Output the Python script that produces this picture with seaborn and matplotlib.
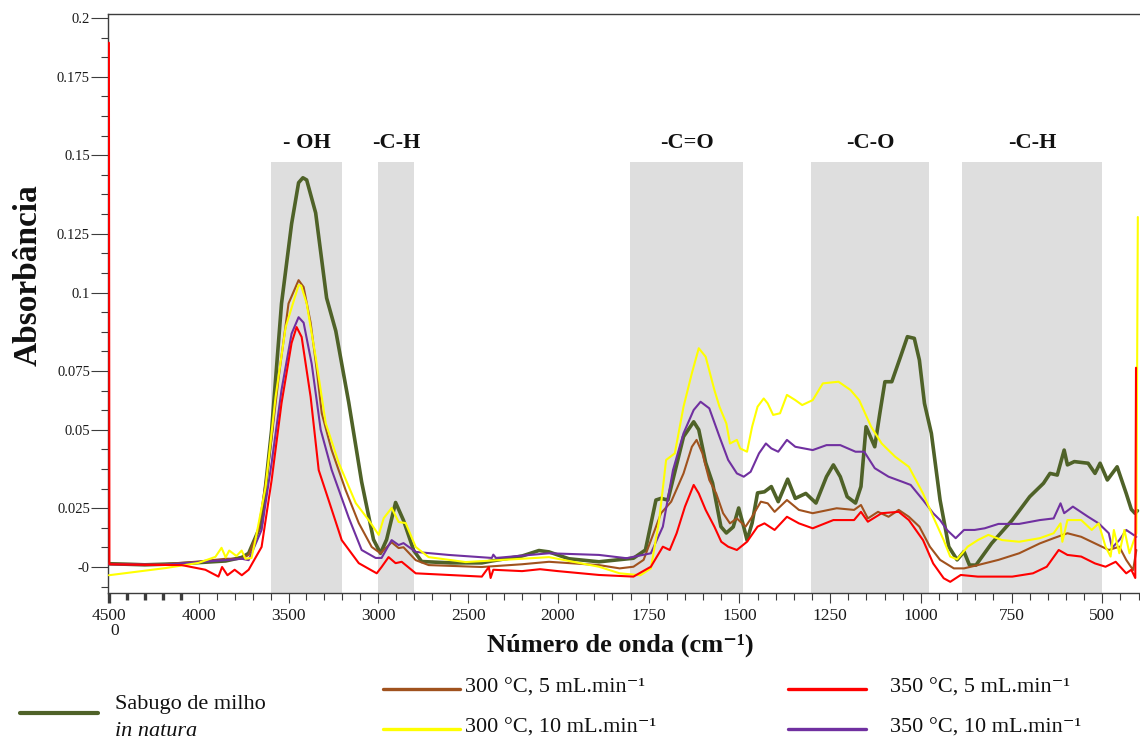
import numpy as np
import pandas as pd
import matplotlib
matplotlib.use("Agg")
import matplotlib.pyplot as plt
from matplotlib.lines import Line2D
from matplotlib.ticker import FixedLocator, FixedFormatter, NullFormatter
import seaborn as sns

# ---------------- data (wavenumber cm-1, absorbance) ----------------
wn_green = [4500, 4300, 4100, 3950, 3850, 3760, 3722, 3650, 3594, 3539, 3483, 3444, 3420, 3399, 3349,
            3288, 3237, 3165, 3093, 3027, 2988, 2954, 2904, 2860, 2803, 2759, 2600, 2424, 2368, 2200,
            2106, 2050, 1970, 1887, 1792, 1759, 1730, 1716, 1697, 1654, 1626, 1612, 1593, 1574, 1551,
            1536, 1517, 1502, 1488, 1479, 1465, 1450, 1431, 1412, 1393, 1367, 1346, 1317, 1289, 1260,
            1241, 1222, 1203, 1180, 1165, 1151, 1127, 1113, 1099, 1080, 1056, 1037, 1018, 1004, 990,
            971, 947, 923, 900, 881, 866, 848, 805, 748, 700, 662, 644, 624, 605, 596, 577, 539, 520,
            506, 486, 459, 434, 420, 410, 403]
ab_green = [0.0012, 0.0008, 0.0012, 0.0018, 0.0022, 0.0035, 0.005, 0.016, 0.050, 0.096, 0.125, 0.140,
            0.1418, 0.141, 0.129, 0.098, 0.086, 0.060, 0.031, 0.010, 0.005, 0.010, 0.0235, 0.017, 0.006,
            0.002, 0.0015, 0.0015, 0.0022, 0.004, 0.006, 0.0055, 0.003, 0.0019, 0.0032, 0.0062, 0.0244,
            0.025, 0.0244, 0.0475, 0.0529, 0.050, 0.038, 0.0306, 0.0147, 0.0124, 0.0146, 0.0215, 0.0146,
            0.0098, 0.016, 0.027, 0.0274, 0.0293, 0.0238, 0.032, 0.025, 0.0268, 0.0233, 0.0329, 0.0372,
            0.0329, 0.0256, 0.0233, 0.0293, 0.0511, 0.0438, 0.056, 0.0675, 0.0675, 0.0766, 0.0839, 0.0833,
            0.0754, 0.0596, 0.0487, 0.0244, 0.0074, 0.0026, 0.0056, 0.0007, 0.0007, 0.0086, 0.0171, 0.0256,
            0.0305, 0.0341, 0.0335, 0.0426, 0.0372, 0.0384, 0.0378, 0.0341, 0.0378, 0.0317, 0.0365, 0.0268,
            0.021, 0.0196, 0.0205]

wn_brown = [4500, 4200, 4000, 3850, 3760, 3722, 3667, 3611, 3555, 3500, 3444, 3416, 3377, 3343, 3315,
            3260, 3182, 3109, 3037, 2988, 2926, 2887, 2860, 2792, 2720, 2424, 2200, 2050, 1887, 1830,
            1792, 1764, 1716, 1688, 1654, 1631, 1618, 1602, 1583, 1564, 1545, 1526, 1507, 1483, 1465,
            1441, 1422, 1403, 1369, 1336, 1298, 1232, 1184, 1165, 1146, 1118, 1089, 1061, 1033, 1004,
            975, 947, 909, 881, 843, 786, 729, 672, 634, 596, 558, 520, 482, 453, 434, 415, 406]
ab_brown = [0.0012, 0.001, 0.002, 0.003, 0.003, 0.0044, 0.0135, 0.038, 0.069, 0.096, 0.1045, 0.102,
            0.089, 0.0718, 0.056, 0.0426, 0.028, 0.016, 0.0073, 0.005, 0.009, 0.0069, 0.0072, 0.0025,
            0.0007, 0.0, 0.001, 0.0019, 0.0007, -0.0005, 0.0001, 0.0026, 0.0196, 0.0238, 0.0341, 0.0438,
            0.0463, 0.0414, 0.0317, 0.0268, 0.0196, 0.0159, 0.0177, 0.0147, 0.0183, 0.0238, 0.0232,
            0.0201, 0.0244, 0.0208, 0.0196, 0.0214, 0.0208, 0.0226, 0.0177, 0.0201, 0.0183, 0.0208,
            0.0183, 0.0147, 0.0074, 0.0026, -0.0005, -0.0005, 0.0007, 0.0026, 0.005, 0.0086, 0.0105,
            0.0123, 0.011, 0.0086, 0.0062, 0.0074, 0.0026, -0.0011, 0.0062]

wn_yellow = [4500, 4186, 4001, 3907, 3873, 3850, 3830, 3790, 3761, 3740, 3706, 3684, 3628, 3572, 3516,
             3444, 3430, 3399, 3349, 3293, 3221, 3126, 3054, 2998, 2970, 2926, 2887, 2848, 2792, 2720,
             2514, 2200, 2050, 1887, 1830, 1773, 1744, 1721, 1702, 1678, 1654, 1631, 1612, 1593, 1569,
             1555, 1536, 1526, 1507, 1498, 1479, 1465, 1450, 1433, 1422, 1407, 1388, 1369, 1346, 1327,
             1298, 1270, 1227, 1194, 1170, 1137, 1108, 1071, 1033, 994, 966, 937, 919, 900, 871, 843,
             814, 776, 729, 672, 634, 615, 610, 596, 558, 529, 510, 491, 477, 468, 453, 439, 425, 406, 402]
ab_yellow = [-0.003, -0.0004, 0.0015, 0.0037, 0.007, 0.0035, 0.006, 0.004, 0.006, 0.003, 0.0033, 0.010,
             0.029, 0.062, 0.0874, 0.1027, 0.1025, 0.096, 0.0765, 0.0524, 0.038, 0.0233, 0.0171, 0.0117,
             0.0178, 0.0215, 0.0164, 0.016, 0.0073, 0.0036, 0.0018, 0.003, 0.0036, 0.0001, -0.0023, -0.003,
             -0.0005, 0.0171, 0.039, 0.0414, 0.0584, 0.0706, 0.0797, 0.0766, 0.0645, 0.0584, 0.0523, 0.045,
             0.0463, 0.0432, 0.042, 0.0511, 0.0584, 0.0614, 0.0596, 0.0554, 0.056, 0.0627, 0.0608, 0.059,
             0.0608, 0.0669, 0.0675, 0.0645, 0.0608, 0.0511, 0.045, 0.0402, 0.0365, 0.0268, 0.0183, 0.0098,
             0.0038, 0.0028, 0.0074, 0.0098, 0.0117, 0.0098, 0.0092, 0.0105, 0.0123, 0.0159, 0.0092, 0.0171,
             0.0171, 0.0135, 0.0159, 0.0074, 0.0038, 0.0135, 0.005, 0.0135, 0.005, 0.0123, 0.1275]

wn_red = [4500, 4497, 4300, 4095, 3963, 3890, 3870, 3840, 3800, 3760, 3722, 3650, 3594, 3539, 3483,
          3455, 3427, 3377, 3332, 3277, 3204, 3109, 3009, 2982, 2943, 2904, 2870, 2792, 2424, 2385,
          2375, 2360, 2200, 2100, 2000, 1887, 1792, 1744, 1711, 1692, 1673, 1650, 1626, 1612, 1593,
          1569, 1550, 1531, 1507, 1479, 1450, 1431, 1403, 1369, 1336, 1298, 1241, 1184, 1165, 1146,
          1108, 1061, 1033, 994, 966, 937, 919, 890, 843, 795, 748, 691, 653, 620, 596, 558, 520, 491,
          463, 434, 420, 409, 407]
ab_red = [0.191, 0.001, 0.0008, 0.0007, -0.001, -0.0035, 0.0, -0.003, -0.001, -0.003, -0.001, 0.0073,
          0.0317, 0.0597, 0.0816, 0.0874, 0.0838, 0.062, 0.0353, 0.0244, 0.0098, 0.0014, -0.0023, 0.0,
          0.0036, 0.0014, 0.0019, -0.0023, -0.0035, 0.0, -0.004, -0.001, -0.0015, -0.0008, -0.0015,
          -0.0029, -0.0035, 0.0001, 0.0074, 0.0062, 0.0123, 0.022, 0.0299, 0.0268, 0.0208, 0.0147, 0.0092,
          0.0074, 0.0062, 0.0092, 0.0147, 0.0159, 0.0135, 0.0183, 0.0159, 0.0141, 0.0171, 0.0171, 0.0201,
          0.0165, 0.0196, 0.0201, 0.0171, 0.0098, 0.0013, -0.0041, -0.0054, -0.0029, -0.0035, -0.0035,
          -0.0035, -0.0023, 0.0001, 0.0062, 0.0044, 0.0038, 0.0013, 0.0001, 0.0019, -0.0023, -0.001,
          -0.004, 0.0726]

wn_purple = [4500, 4200, 4000, 3850, 3760, 3722, 3650, 3594, 3539, 3483, 3444, 3416, 3371, 3321, 3260,
             3165, 3093, 3015, 2982, 2926, 2887, 2860, 2792, 2609, 2368, 2360, 2345, 2050, 1887, 1811,
             1744, 1711, 1683, 1654, 1626, 1607, 1583, 1555, 1531, 1507, 1488, 1469, 1446, 1427, 1412,
             1393, 1369, 1346, 1298, 1260, 1222, 1180, 1156, 1127, 1089, 1052, 1028, 994, 966, 947, 928,
             904, 881, 852, 824, 786, 729, 672, 634, 615, 605, 581, 539, 510, 482, 473, 453, 434, 406]
ab_purple = [0.001, 0.0008, 0.0018, 0.0025, 0.003, 0.0025, 0.0135, 0.038, 0.0645, 0.085, 0.091, 0.089,
             0.074, 0.050, 0.0354, 0.018, 0.0062, 0.0033, 0.0033, 0.0098, 0.008, 0.0087, 0.0055, 0.0044,
             0.0033, 0.0045, 0.0033, 0.005, 0.0044, 0.0032, 0.005, 0.0147, 0.0353, 0.0487, 0.0572, 0.0602,
             0.0578, 0.0475, 0.039, 0.0341, 0.0329, 0.0347, 0.0414, 0.045, 0.0432, 0.042, 0.0463, 0.0438,
             0.0426, 0.0444, 0.0444, 0.042, 0.042, 0.036, 0.0329, 0.0311, 0.0299, 0.0244, 0.0196, 0.0171,
             0.0135, 0.0105, 0.0135, 0.0135, 0.0141, 0.0157, 0.0157, 0.0171, 0.0177, 0.0232, 0.0196, 0.022,
             0.0183, 0.0159, 0.0123, 0.007, 0.0098, 0.0135, 0.011]

series_labels = ["Sabugo de milho", "300 °C, 5 mL.min⁻¹", "300 °C, 10 mL.min⁻¹",
                 "350 °C, 5 mL.min⁻¹", "350 °C, 10 mL.min⁻¹"]

band_labels = ["- OH", "-C-H", "-C=O", "-C-O", "-C-H"]
band_hi = [3600, 3000, 1801, 1302, 886]
band_lo = [3200, 2800, 1490, 977, 500]
band_top = 0.1475

x_major = [4500, 4000, 3500, 3000, 2500, 2000, 1750, 1500, 1250, 1000, 750, 500]
x_major_labels = ["4500", "4000", "3500", "3000", "2500", "2000", "1750", "1500", "1250", "1000", "750", "500"]
y_labels = ["-0", "0.025", "0.05", "0.075", "0.1", "0.125", "0.15", "0.175", "0.2"]
y_label_index = [0, 3, 7, 10, 14, 17, 21, 25, 28]

# ---------------- style ----------------
sns.set_theme(style="white")
plt.rcParams['font.family'] = ['Liberation Serif', 'DejaVu Serif']
plt.rcParams['axes.unicode_minus'] = False

BREAK = 2000.0
STRETCH = 2.02


def fwd(x):
    # increasing function of wavenumber; below 2000 cm-1 the scale is stretched
    x = np.asarray(x, dtype=float)
    return -np.where(x >= BREAK, 4500.0 - x, 2500.0 + STRETCH * (BREAK - x))


def inv(p):
    p = -np.asarray(p, dtype=float)
    return np.where(p <= 2500.0, 4500.0 - p, BREAK - (p - 2500.0) / STRETCH)


W, H = 1140, 744
fig = plt.figure(figsize=(W / 100, H / 100), dpi=100)
fig.patch.set_facecolor("white")
L, R, T, B = 108, 1140, 14, 593
ax = fig.add_axes([L / W, 1 - B / H, (R - L) / W, (B - T) / H])
ax.set_facecolor("white")
ax.set_xscale("function", functions=(fwd, inv))
ax.set_xlim(4505, 396)
YMIN, YMAX = -0.00947, 0.20146
ax.set_ylim(YMIN, YMAX)

# bands
for lo, hi, lab in zip(band_lo, band_hi, band_labels):
    ax.fill_between([hi, lo], YMIN, band_top, color="#dedede", lw=0, zorder=0)
    ax.text((lo + hi) / 2, 0.1545, lab, ha="center", va="center",
            fontsize=16, fontweight="bold", color="#111111")

colors = ["#4f6228", "#a0521e", "#ffff00", "#ff0000", "#7030a0"]
widths = [2.6, 1.5, 1.5, 1.5, 1.5]
all_series = [(wn_green, ab_green), (wn_brown, ab_brown), (wn_yellow, ab_yellow),
              (wn_red, ab_red), (wn_purple, ab_purple)]
order = [0, 1, 4, 2, 3]
for i in order:
    wn, ab = all_series[i]
    df = pd.DataFrame({"wn": wn, "abs": ab})
    sns.lineplot(data=df, x="wn", y="abs", color=colors[i], linewidth=widths[i], ax=ax,
                 sort=False, estimator=None, legend=False, zorder=3)

ax.set_xlabel("")
ax.set_ylabel("")

# x ticks
ax.xaxis.set_major_locator(FixedLocator(x_major))
ax.xaxis.set_major_formatter(FixedFormatter(x_major_labels))
x_minor = [v for v in list(range(4400, 2000, -100)) + list(range(1950, 350, -50)) if v not in x_major]
ax.xaxis.set_minor_locator(FixedLocator(x_minor))
ax.xaxis.set_minor_formatter(NullFormatter())

# y ticks
step = 0.2 / 28
ax.yaxis.set_major_locator(FixedLocator([i * step for i in y_label_index]))
ax.yaxis.set_major_formatter(FixedFormatter(y_labels))
ax.yaxis.set_minor_locator(FixedLocator([i * step for i in range(-1, 29)]))
ax.yaxis.set_minor_formatter(NullFormatter())

spine_c = "#3c3c3c"
ax.tick_params(axis="x", which="major", direction="out", length=7.5, width=0.8, color=spine_c,
               labelsize=12.5, pad=3, labelcolor="#1a1a1a", bottom=True)
ax.tick_params(axis="x", which="minor", direction="out", length=5, width=0.8, color=spine_c, bottom=True)
ax.tick_params(axis="y", which="major", direction="out", length=12, width=0.8, color=spine_c,
               labelsize=10.5, pad=1, labelcolor="#1a1a1a", left=True)
ax.tick_params(axis="y", which="minor", direction="out", length=5, width=0.8, color=spine_c, left=True)

for s in ["left", "bottom", "top"]:
    ax.spines[s].set_visible(True)
    ax.spines[s].set_color(spine_c)
    ax.spines[s].set_linewidth(1.0)
ax.spines["right"].set_visible(False)

# heavy ticks near 4500-4100
for t, loc in zip(ax.xaxis.get_minor_ticks(), ax.xaxis.get_minorticklocs()):
    if loc >= 4100:
        t.tick1line.set_markeredgewidth(2.4)
        t.tick1line.set_color("black")
for t, loc in zip(ax.xaxis.get_major_ticks(), ax.xaxis.get_majorticklocs()):
    if loc >= 4500:
        t.tick1line.set_markeredgewidth(2.4)
        t.tick1line.set_color("black")


def fx(px):
    return px / W


def fy(py):
    return 1 - py / H


fig.text(fx(115), fy(631), "0", ha="center", va="center", fontsize=12.5, color="#1a1a1a")

# axis titles
fig.text(fx(620), fy(645), "Número de onda (cm⁻¹)", ha="center", va="center",
         fontsize=19, fontweight="bold", color="#111111")
fig.text(fx(28), fy(275), "Absorbância", ha="center", va="center", rotation=90,
         fontsize=24, fontweight="bold", color="#111111")

# legend (manual layout)
leg_lines = [((20, 98), 713), ((383, 460), 689), ((383, 460), 729), ((788, 866), 689), ((788, 866), 729)]
leg_lw = [3.0, 2.4, 2.4, 2.4, 2.4]
for i, ((x0, x1), yy) in enumerate(leg_lines):
    fig.add_artist(Line2D([fx(x0), fx(x1)], [fy(yy), fy(yy)], color=colors[i], lw=leg_lw[i]))

fig.text(fx(115), fy(705), series_labels[0], ha="left", va="center", fontsize=16, color="#111111")
fig.text(fx(115), fy(731), "in natura", ha="left", va="center", fontsize=16,
         style="italic", color="#111111")
legend_fs = 16
fig.text(fx(465), fy(688), series_labels[1], ha="left", va="center", fontsize=legend_fs, color="#111111")
fig.text(fx(465), fy(728), series_labels[2], ha="left", va="center", fontsize=legend_fs, color="#111111")
fig.text(fx(890), fy(688), series_labels[3], ha="left", va="center", fontsize=legend_fs, color="#111111")
fig.text(fx(890), fy(728), series_labels[4], ha="left", va="center", fontsize=legend_fs, color="#111111")

fig.savefig("out.png", dpi=100, facecolor="white")
